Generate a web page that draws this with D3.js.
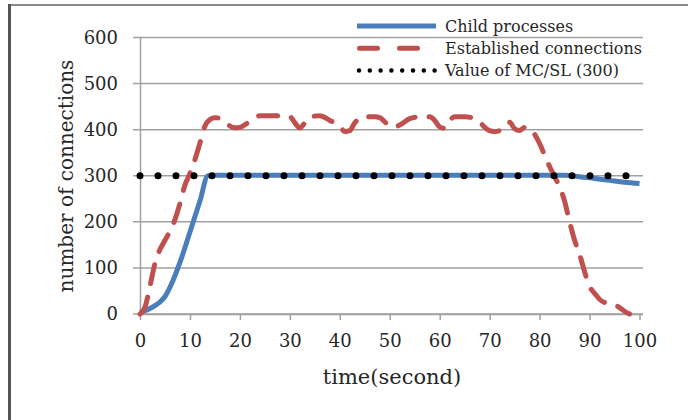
<!DOCTYPE html>
<html lang="en">
<head>
    <meta charset="UTF-8">
    <title>number of connections</title>
    <script src="https://cdn.jsdelivr.net/npm/d3@7"></script>
    <style>
        body { margin: 0; background: #fff; }
        text { font-family: "DejaVu Serif", serif; fill: #262626; }
    </style>
</head>
<body>
</body>
<script>
    // data
    var xTicks = [0, 10, 20, 30, 40, 50, 60, 70, 80, 90, 100];
    var yTicks = [0, 100, 200, 300, 400, 500, 600];

    var childTime = [0, 1, 2, 3, 4, 5, 6, 8, 10, 12, 13.6, 15, 30, 50, 70, 85, 88, 91, 94, 97, 100];
    var childValue = [4, 7, 12, 18, 26, 38, 58, 112, 178, 245, 300, 301, 301, 301, 301, 301, 298, 294, 290, 286, 283];

    var connTime = [0, 1, 2, 3, 4, 5, 6, 7, 8, 9, 10, 11, 12, 13, 14, 15, 16, 17, 18, 19, 20, 22, 24, 26, 28, 30,
        31, 32, 33, 34, 36, 38, 40, 41, 42, 43, 45, 47, 48, 49, 50, 51, 52, 54, 56, 58, 59, 60, 61, 62, 63, 65,
        67, 68, 69, 70, 71, 72, 74, 75, 76, 77, 78, 79, 80, 81, 82, 83, 84, 85, 86, 87, 88, 89, 90, 91, 92, 93,
        94, 95, 96, 97, 98];
    var connValue = [0, 15, 60, 110, 140, 160, 180, 205, 240, 280, 305, 335, 371, 408, 422, 426, 425, 418, 408, 404, 405, 418, 430, 430, 430, 428,
        415, 404, 415, 428, 430, 420, 408, 396, 398, 415, 428, 428, 426, 417, 408, 406, 410, 424, 428, 428, 420, 406, 403, 420, 428, 428,
        424, 417, 405, 398, 396, 398, 416, 402, 398, 405, 403, 390, 370, 345, 320, 298, 276, 245, 200, 160, 130, 92, 60, 45, 32, 25,
        23, 20, 14, 6, 0];

    var limitTime = [0, 100];
    var limitValue = [300, 300];

    var legendNames = ['Child processes', 'Established connections', 'Value of MC/SL (300)'];

    var width = 688, height = 420;

    var svg = d3.select('body')
        .append('svg')
        .attr('width', width)
        .attr('height', height);

    // outer frame (only top and left edges are visible)
    svg.append('line').attr('x1', 8).attr('x2', width).attr('y1', 5).attr('y2', 5)
        .attr('stroke', '#888').attr('stroke-width', 2);
    svg.append('line').attr('x1', 9.5).attr('x2', 9.5).attr('y1', 4).attr('y2', height)
        .attr('stroke', '#555').attr('stroke-width', 3);

    var x = d3.scaleLinear().domain([0, 100]).range([140, 639.5]);
    var y = d3.scaleLinear().domain([0, 600]).range([314, 37.5]);
    var gridRight = 643;

    // gridlines
    svg.append('g').selectAll('line')
        .data(yTicks)
        .enter().append('line')
        .attr('x1', 133).attr('x2', gridRight)
        .attr('y1', function (d) { return y(d); })
        .attr('y2', function (d) { return y(d); })
        .attr('stroke', '#a0a0a0').attr('stroke-width', 1.5);

    // y axis
    var yAxis = svg.append('g')
        .attr('transform', 'translate(140,0)')
        .call(d3.axisLeft(y).tickValues(yTicks).tickSize(0).tickPadding(22));
    yAxis.select('.domain').attr('stroke', '#a0a0a0').attr('stroke-width', 1.5);
    yAxis.selectAll('text').style('font-size', '18px').attr('fill', '#262626');

    // x axis
    var xAxis = svg.append('g')
        .attr('transform', 'translate(0,' + y(0) + ')')
        .call(d3.axisBottom(x).tickValues(xTicks).tickSize(6).tickPadding(14).tickSizeOuter(0));
    xAxis.select('.domain').attr('d', 'M140,0.5H' + gridRight)
        .attr('stroke', '#a0a0a0').attr('stroke-width', 1.5);
    xAxis.selectAll('.tick line').attr('stroke', '#a0a0a0').attr('stroke-width', 1.5);
    xAxis.selectAll('text').style('font-size', '18px').attr('fill', '#262626');

    // axis titles
    svg.append('text')
        .attr('x', 392).attr('y', 384)
        .attr('text-anchor', 'middle')
        .style('font-size', '21px')
        .text('time(second)');
    svg.append('text')
        .attr('transform', 'translate(73,176) rotate(-90)')
        .attr('text-anchor', 'middle')
        .style('font-size', '20px')
        .text('number of connections');

    var line = d3.line()
        .x(function (d) { return x(d[0]); })
        .y(function (d) { return y(d[1]); })
        .curve(d3.curveMonotoneX);

    var childData = d3.zip(childTime, childValue);
    var connData = d3.zip(connTime, connValue);
    var limitData = d3.zip(limitTime, limitValue);

    svg.append('path').datum(childData)
        .attr('d', line)
        .attr('fill', 'none')
        .attr('stroke', '#4a7ebb')
        .attr('stroke-width', 5)
        .attr('stroke-linejoin', 'round');

    svg.append('path').datum(connData)
        .attr('d', line)
        .attr('fill', 'none')
        .attr('stroke', '#c0504d')
        .attr('stroke-width', 5)
        .attr('stroke-dasharray', '19,14')
        .attr('stroke-linecap', 'round');

    svg.append('path').datum(limitData)
        .attr('d', line)
        .attr('fill', 'none')
        .attr('stroke', '#000')
        .attr('stroke-width', 7)
        .attr('stroke-dasharray', '0,18')
        .attr('stroke-linecap', 'round');

    // legend
    var legendStyles = [
        {color: '#4a7ebb', w: 5, dash: null, cap: 'butt', x1: 357},
        {color: '#c0504d', w: 5, dash: '18,22', cap: 'round', x1: 359.5},
        {color: '#000', w: 4.5, dash: '0,10.8', cap: 'round', x1: 359}
    ];
    var legend = svg.append('g').selectAll('g')
        .data(legendNames)
        .enter().append('g')
        .attr('transform', function (d, i) { return 'translate(0,' + (26 + i * 22.3) + ')'; });
    legend.append('line')
        .attr('x1', function (d, i) { return legendStyles[i].x1; })
        .attr('x2', 436)
        .attr('stroke', function (d, i) { return legendStyles[i].color; })
        .attr('stroke-width', function (d, i) { return legendStyles[i].w; })
        .attr('stroke-dasharray', function (d, i) { return legendStyles[i].dash; })
        .attr('stroke-linecap', function (d, i) { return legendStyles[i].cap; });
    legend.append('text')
        .attr('x', 445).attr('y', 5.5)
        .style('font-size', '16px')
        .text(function (d) { return d; });
</script>
</html>
